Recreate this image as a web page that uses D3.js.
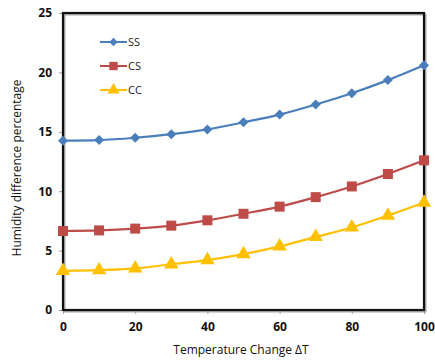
<!DOCTYPE html>
<html>
<head>
<meta charset="utf-8">
<script src="https://cdn.jsdelivr.net/npm/d3@7"></script>
<style>
  html, body { margin: 0; padding: 0; background: #fff; }
  svg { display: block; font-family: "Open Sans", "Noto Sans", sans-serif; }
</style>
</head>
<body>
<svg id="chart" width="435" height="360"></svg>
<script>
// Temperature change steps (x axis)
const deltaT = [0, 10, 20, 30, 40, 50, 60, 70, 80, 90, 100];

// Humidity difference percentage for each configuration
const ssValues = [14.25, 14.3, 14.5, 14.8, 15.2, 15.8, 16.45, 17.3, 18.25, 19.35, 20.6];
const csValues = [6.65, 6.7, 6.85, 7.1, 7.55, 8.1, 8.7, 9.5, 10.4, 11.45, 12.6];
const ccValues = [3.3, 3.35, 3.5, 3.85, 4.2, 4.7, 5.35, 6.15, 6.95, 7.95, 9.05];

const seriesNames = ["SS", "CS", "CC"];
const seriesColors = ["#4a7ebb", "#be4b48", "#ffc000"];
const seriesShapes = ["diamond", "square", "triangle"];

const xTicks = [0, 20, 40, 60, 80, 100];
const yTicks = [0, 5, 10, 15, 20, 25];

const series = [ssValues, csValues, ccValues].map((vals, i) => ({
  name: seriesNames[i],
  color: seriesColors[i],
  shape: seriesShapes[i],
  points: vals.map((v, j) => ({ x: deltaT[j], y: v }))
}));

const svg = d3.select("#chart");
const plot = { left: 63, right: 424, top: 13, bottom: 310 };

const x = d3.scaleLinear().domain([0, 100]).range([plot.left, plot.right]);
const y = d3.scaleLinear().domain([0, 25]).range([plot.bottom, plot.top]);

// Axes with small outward grey ticks and bold labels
const xAxis = svg.append("g")
  .attr("transform", `translate(0,${plot.bottom})`)
  .call(d3.axisBottom(x).tickValues(xTicks).tickSize(4).tickPadding(8).tickFormat(d3.format("d")));
const yAxis = svg.append("g")
  .attr("transform", `translate(${plot.left},0)`)
  .call(d3.axisLeft(y).tickValues(yTicks).tickSize(4).tickPadding(7).tickFormat(d3.format("d")));

[xAxis, yAxis].forEach(g => {
  g.select(".domain").remove();
  g.selectAll(".tick line").attr("stroke", "#999").attr("stroke-width", 1);
  g.selectAll(".tick text")
    .attr("fill", "#111")
    .style("font-size", "12px")
    .style("font-weight", "bold")
    .style("font-family", "'Open Sans', sans-serif");
});

// Plot frame: soft shadow then a solid black border
svg.append("rect")
  .attr("x", plot.left + 1.5).attr("y", plot.top + 1.5)
  .attr("width", plot.right - plot.left).attr("height", plot.bottom - plot.top)
  .attr("fill", "none").attr("stroke", "#aaa").attr("stroke-width", 2);
svg.append("rect")
  .attr("x", plot.left).attr("y", plot.top)
  .attr("width", plot.right - plot.left).attr("height", plot.bottom - plot.top)
  .attr("fill", "none").attr("stroke", "#111").attr("stroke-width", 2.2);

// Marker shapes: diamond is a square turned 45 degrees
function marker(shape, scale) {
  if (shape === "diamond") return { d: d3.symbol().type(d3.symbolSquare).size(50 * scale)(), rot: 45 };
  if (shape === "square") return { d: d3.symbol().type(d3.symbolSquare).size(100 * scale)(), rot: 0 };
  return { d: d3.symbol().type(d3.symbolTriangle).size(90 * scale)(), rot: 0 };
}

// Series lines and markers
const line = d3.line().x(d => x(d.x)).y(d => y(d.y)).curve(d3.curveMonotoneX);

series.forEach(s => {
  const g = svg.append("g");
  g.append("path")
    .datum(s.points)
    .attr("d", line)
    .attr("fill", "none")
    .attr("stroke", s.color)
    .attr("stroke-width", 2.2);
  const m = marker(s.shape, 1);
  g.selectAll("path.m")
    .data(s.points)
    .join("path")
    .attr("class", "m")
    .attr("transform", d => `translate(${x(d.x)},${y(d.y)}) rotate(${m.rot})`)
    .attr("d", m.d)
    .attr("fill", s.color);
});

// Legend
const legend = svg.append("g");
series.forEach((s, i) => {
  const ly = 42 + i * 24;
  legend.append("line")
    .attr("x1", 100).attr("x2", 127).attr("y1", ly).attr("y2", ly)
    .attr("stroke", s.color).attr("stroke-width", 2);
  const m = marker(s.shape, 0.7);
  legend.append("path")
    .attr("transform", `translate(113.5,${ly}) rotate(${m.rot})`)
    .attr("d", m.d)
    .attr("fill", s.color);
  legend.append("text")
    .attr("x", 128).attr("y", ly + 4)
    .style("font-size", "11px")
    .attr("fill", "#222")
    .text(s.name);
});

// Axis titles
svg.append("text")
  .attr("x", 241).attr("y", 354)
  .attr("text-anchor", "middle")
  .style("font-size", "12px")
  .attr("fill", "#111")
  .text("Temperature Change ΔT");

svg.append("text")
  .attr("transform", "translate(21,168) rotate(-90)")
  .attr("text-anchor", "middle")
  .style("font-size", "12px")
  .attr("fill", "#111")
  .text("Humidity difference percentage");
</script>
</body>
</html>
